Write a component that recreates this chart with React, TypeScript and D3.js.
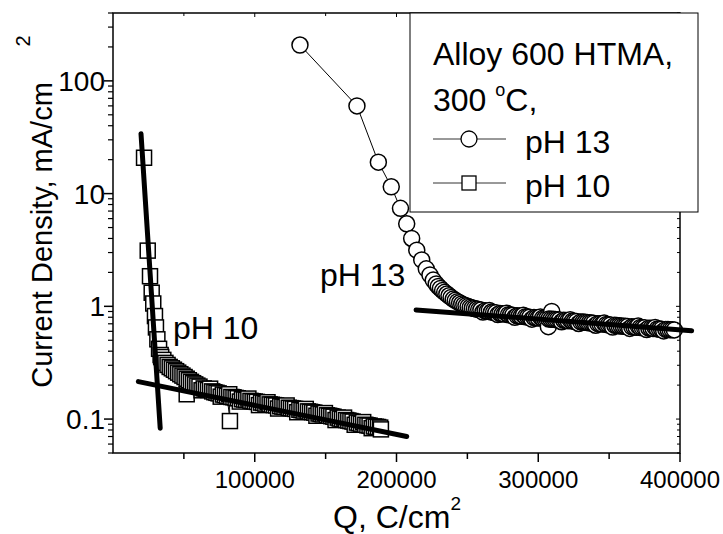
import React from 'react';
import * as d3 from 'd3';

// axis setup
const Q_DOMAIN = [0, 400000];
const J_DOMAIN = [0.05, 400];
const Q_TICKS = [100000, 200000, 300000, 400000];
const Q_MINOR = [50000, 150000, 250000, 350000];
const J_TICKS = [0.1, 1, 10, 100];
const J_TICK_LABELS = ['0.1', '1', '10', '100'];

// pH 13 run (circles), Q in kC/cm2 here, scaled below
const PH13_QK = [
  131.9, 172.1, 187.2, 196.3, 202.8, 207.2, 210.7, 214.3, 217.8, 221.0,
  223.6, 225.9, 228.0, 229.5, 231.0, 232.5, 234.0, 235.5, 237.0, 238.5,
  240.0, 241.5, 243.0, 244.5, 246.0, 247.5, 249.0, 250.5, 252.0, 253.5,
  255.0, 256.5, 258.0, 259.5, 261.0, 262.5, 264.0, 265.5, 267.0, 268.5,
  270.0, 271.5, 273.0, 274.5, 276.0, 277.5, 279.0, 280.5, 282.0, 283.5,
  285.0, 286.5, 288.0, 289.5, 291.0, 292.5, 294.0, 295.5, 297.0, 298.5,
  300.0, 301.5, 303.0, 304.5, 306.0, 307.1, 309.5, 307.5, 309.0, 310.5,
  312.0, 313.5, 315.0, 316.5, 318.0, 319.5, 321.0, 322.5, 324.0, 325.5,
  327.0, 328.5, 330.0, 331.5, 333.0, 334.5, 336.0, 337.5, 339.0, 340.5,
  342.0, 343.5, 345.0, 346.5, 348.0, 349.5, 351.0, 352.5, 354.0, 355.5,
  357.0, 358.5, 360.0, 361.5, 363.0, 364.5, 366.0, 367.5, 369.0, 370.5,
  372.0, 373.5, 375.0, 376.5, 378.0, 379.5, 381.0, 382.5, 384.0, 385.5,
  387.0, 388.5, 390.0, 391.5, 393.0, 394.5, 396.0,
];
const PH13_J = [
  208, 60, 19, 11.5, 7.4, 5.4, 4.0, 3.15, 2.58, 2.15,
  1.9, 1.71, 1.58, 1.5, 1.44, 1.38, 1.33, 1.285, 1.24, 1.2,
  1.16, 1.13, 1.1, 1.075, 1.05, 1.03, 1.01, 0.995, 0.98, 0.968,
  0.957, 0.946, 0.935, 0.927, 0.89, 0.912, 0.905, 0.92, 0.89, 0.883,
  0.875, 0.845, 0.864, 0.858, 0.853, 0.87, 0.843, 0.839, 0.834, 0.8,
  0.825, 0.821, 0.817, 0.835, 0.809, 0.806, 0.802, 0.77, 0.795, 0.791,
  0.788, 0.805, 0.782, 0.779, 0.776, 0.66, 0.9, 0.773, 0.77, 0.767,
  0.764, 0.761, 0.758, 0.73, 0.752, 0.749, 0.746, 0.76, 0.74, 0.737,
  0.734, 0.705, 0.728, 0.725, 0.722, 0.719, 0.715, 0.712, 0.709, 0.68,
  0.702, 0.699, 0.696, 0.71, 0.69, 0.687, 0.684, 0.655, 0.678, 0.675,
  0.672, 0.67, 0.667, 0.665, 0.662, 0.637, 0.658, 0.655, 0.653, 0.668,
  0.649, 0.647, 0.645, 0.622, 0.64, 0.638, 0.636, 0.65, 0.631, 0.629,
  0.627, 0.605, 0.624, 0.623, 0.621, 0.62, 0.618,
];

// pH 10 run (squares)
const PH10_QK = [
  21.9, 24.5, 26.1, 27.3, 28.4, 29.6, 30.3, 31.3, 32.5, 33.6,
  34.0, 35.5, 37.0, 38.5, 40.0, 41.5, 43.0, 44.5, 46.0, 47.5,
  49.0, 50.5, 52.0, 52.0, 53.5, 55.0, 56.5, 58.0, 59.5, 61.0,
  62.5, 64.0, 65.5, 67.0, 68.5, 70.0, 71.5, 73.0, 74.5, 76.0,
  77.5, 79.0, 80.5, 82.5, 82.0, 83.5, 85.0, 86.5, 88.0, 89.5,
  91.0, 92.5, 94.0, 95.5, 97.0, 98.5, 100.0, 101.5, 103.0, 104.5,
  106.0, 107.5, 109.0, 110.5, 112.0, 113.5, 115.0, 116.5, 118.0, 119.5,
  121.0, 122.5, 124.0, 125.5, 127.0, 128.5, 130.0, 131.5, 133.0, 134.5,
  136.0, 137.5, 139.0, 140.5, 142.0, 143.5, 145.0, 146.5, 148.0, 149.5,
  151.0, 152.5, 154.0, 155.5, 157.0, 158.5, 160.0, 161.5, 163.0, 164.5,
  166.0, 167.5, 169.0, 170.5, 172.0, 173.5, 175.0, 176.5, 178.0, 179.5,
  181.0, 182.5, 184.0, 185.5, 187.0, 188.5, 189.0,
];
const PH10_J = [
  20.8, 3.12, 1.85, 1.32, 1.06, 0.82, 0.65, 0.51, 0.42, 0.37,
  0.355, 0.335, 0.315, 0.302, 0.29, 0.282, 0.274, 0.266, 0.258, 0.25,
  0.243, 0.236, 0.166, 0.228, 0.221, 0.214, 0.208, 0.203, 0.198, 0.194,
  0.18, 0.187, 0.184, 0.181, 0.186, 0.176, 0.173, 0.171, 0.169, 0.158,
  0.165, 0.163, 0.161, 0.096, 0.166, 0.157, 0.156, 0.154, 0.153, 0.143,
  0.15, 0.149, 0.148, 0.152, 0.145, 0.144, 0.143, 0.142, 0.133, 0.14,
  0.139, 0.137, 0.141, 0.135, 0.134, 0.133, 0.132, 0.124, 0.13, 0.129,
  0.128, 0.132, 0.126, 0.125, 0.124, 0.123, 0.115, 0.121, 0.12, 0.119,
  0.123, 0.117, 0.116, 0.115, 0.114, 0.107, 0.112, 0.111, 0.11, 0.113,
  0.108, 0.107, 0.106, 0.105, 0.098, 0.103, 0.101, 0.1, 0.103, 0.098,
  0.097, 0.096, 0.095, 0.089, 0.093, 0.092, 0.091, 0.094, 0.089, 0.088,
  0.0875, 0.083, 0.086, 0.0855, 0.085, 0.084, 0.081,
];

// straight-line fits drawn over the data
const FIT_PH10_STEEP_Q = [19750, 33300];
const FIT_PH10_STEEP_J = [34, 0.083];
const FIT_PH10_FLAT_Q = [17900, 207200];
const FIT_PH10_FLAT_J = [0.215, 0.07];
const FIT_PH13_Q = [213800, 408200];
const FIT_PH13_J = [0.93, 0.608];

const FONT = "'Liberation Sans', Arial, sans-serif";

const App = () => {
  const W = 723;
  const H = 534;
  const left = 113, right = 680, top = 13, bottom = 453;

  const x = d3.scaleLinear().domain(Q_DOMAIN).range([left, right]);
  const y = d3.scaleLog().domain(J_DOMAIN).range([bottom, top]);

  const minorJ = y.ticks().filter((t) => !J_TICKS.includes(t));

  const pts = (qs, js) => qs.map((q, i) => [x(q), y(js[i])]);
  const line = d3.line();

  const ph13 = pts(PH13_QK.map((q) => q * 1000), PH13_J);
  const ph10 = pts(PH10_QK.map((q) => q * 1000), PH10_J);
  const fits = [
    pts(FIT_PH10_STEEP_Q, FIT_PH10_STEEP_J),
    pts(FIT_PH10_FLAT_Q, FIT_PH10_FLAT_J),
    pts(FIT_PH13_Q, FIT_PH13_J),
  ];

  const sq = 15;
  const r = 8;
  const mw = 1.5;

  return (
    <svg
      width={W}
      height={H}
      style={{ position: 'absolute', left: 0, top: 0, background: '#fff' }}
      fontFamily={FONT}
    >
      <rect width={W} height={H} fill="#fff" />

      {/* pH 10 */}
      <path d={line(ph10)} fill="none" stroke="#000" strokeWidth={1} />
      {ph10.map(([px, py], i) => (
        <rect key={'s' + i} x={px - sq / 2} y={py - sq / 2} width={sq} height={sq}
          fill="#fff" stroke="#000" strokeWidth={mw} />
      ))}

      {/* pH 13 */}
      <path d={line(ph13)} fill="none" stroke="#000" strokeWidth={1} />
      {ph13.map(([px, py], i) => (
        <circle key={'c' + i} cx={px} cy={py} r={r} fill="#fff" stroke="#000" strokeWidth={mw} />
      ))}

      {/* fits */}
      {fits.map((f, i) => (
        <path key={'f' + i} d={line(f)} fill="none" stroke="#000" strokeWidth={5} strokeLinecap="round" />
      ))}

      {/* frame */}
      <rect x={left} y={top} width={right - left} height={bottom - top} fill="none" stroke="#000" strokeWidth={1.5} />

      {/* x ticks */}
      {Q_TICKS.map((t) => (
        <g key={'xt' + t}>
          <line x1={x(t)} x2={x(t)} y1={bottom} y2={bottom + 9} stroke="#000" strokeWidth={1.5} />
          <line x1={x(t)} x2={x(t)} y1={top} y2={top + 4} stroke="#000" strokeWidth={1} />
          <text x={x(t)} y={488} fontSize={24} textAnchor="middle">{t}</text>
        </g>
      ))}
      {Q_MINOR.map((t) => (
        <g key={'xm' + t}>
          <line x1={x(t)} x2={x(t)} y1={bottom} y2={bottom + 6} stroke="#000" strokeWidth={1.5} />
          <line x1={x(t)} x2={x(t)} y1={top} y2={top + 3} stroke="#000" strokeWidth={1} />
        </g>
      ))}

      {/* y ticks */}
      {J_TICKS.map((t, i) => (
        <g key={'yt' + t}>
          <line x1={left - 9} x2={left} y1={y(t)} y2={y(t)} stroke="#000" strokeWidth={1.5} />
          <line x1={right - 4} x2={right} y1={y(t)} y2={y(t)} stroke="#000" strokeWidth={1} />
          <text x={left - 8} y={y(t)} dy="0.36em" fontSize={28} textAnchor="end">{J_TICK_LABELS[i]}</text>
        </g>
      ))}
      {minorJ.map((t) => (
        <g key={'ym' + t}>
          <line x1={left - 5} x2={left} y1={y(t)} y2={y(t)} stroke="#000" strokeWidth={1.2} />
          <line x1={right - 3} x2={right} y1={y(t)} y2={y(t)} stroke="#000" strokeWidth={1} />
        </g>
      ))}

      {/* axis titles */}
      <text x={397} y={528} fontSize={32} textAnchor="middle">
        Q, C/cm<tspan dy={-18} fontSize={19}>2</tspan>
      </text>
      <text transform="translate(52, 235) rotate(-90)" fontSize={29} textAnchor="middle">
        Current Density, mA/cm
      </text>
      <text transform="translate(30, 41) rotate(-90)" fontSize={20} textAnchor="middle">2</text>

      {/* annotations */}
      <text x={320} y={286} fontSize={32}>pH 13</text>
      <text x={173} y={339} fontSize={32}>pH 10</text>

      {/* legend */}
      <rect x={410} y={13} width={288} height={199} fill="#fff" stroke="#000" strokeWidth={1} />
      <text x={433} y={65} fontSize={32}>Alloy 600 HTMA,</text>
      <text x={433} y={111} fontSize={32}>
        300 <tspan dy={-15} fontSize={18}>o</tspan><tspan dy={15}>C,</tspan>
      </text>
      <line x1={433} x2={506} y1={139} y2={139} stroke="#333" strokeWidth={1} />
      <circle cx={469} cy={139} r={8} fill="#fff" stroke="#000" strokeWidth={1.3} />
      <text x={525} y={153} fontSize={32}>pH 13</text>
      <line x1={433} x2={506} y1={183} y2={183} stroke="#333" strokeWidth={1} />
      <rect x={469 - 7} y={183 - 7} width={14} height={14} fill="#fff" stroke="#000" strokeWidth={1.3} />
      <text x={525} y={197} fontSize={32}>pH 10</text>
    </svg>
  );
};

export default App;
